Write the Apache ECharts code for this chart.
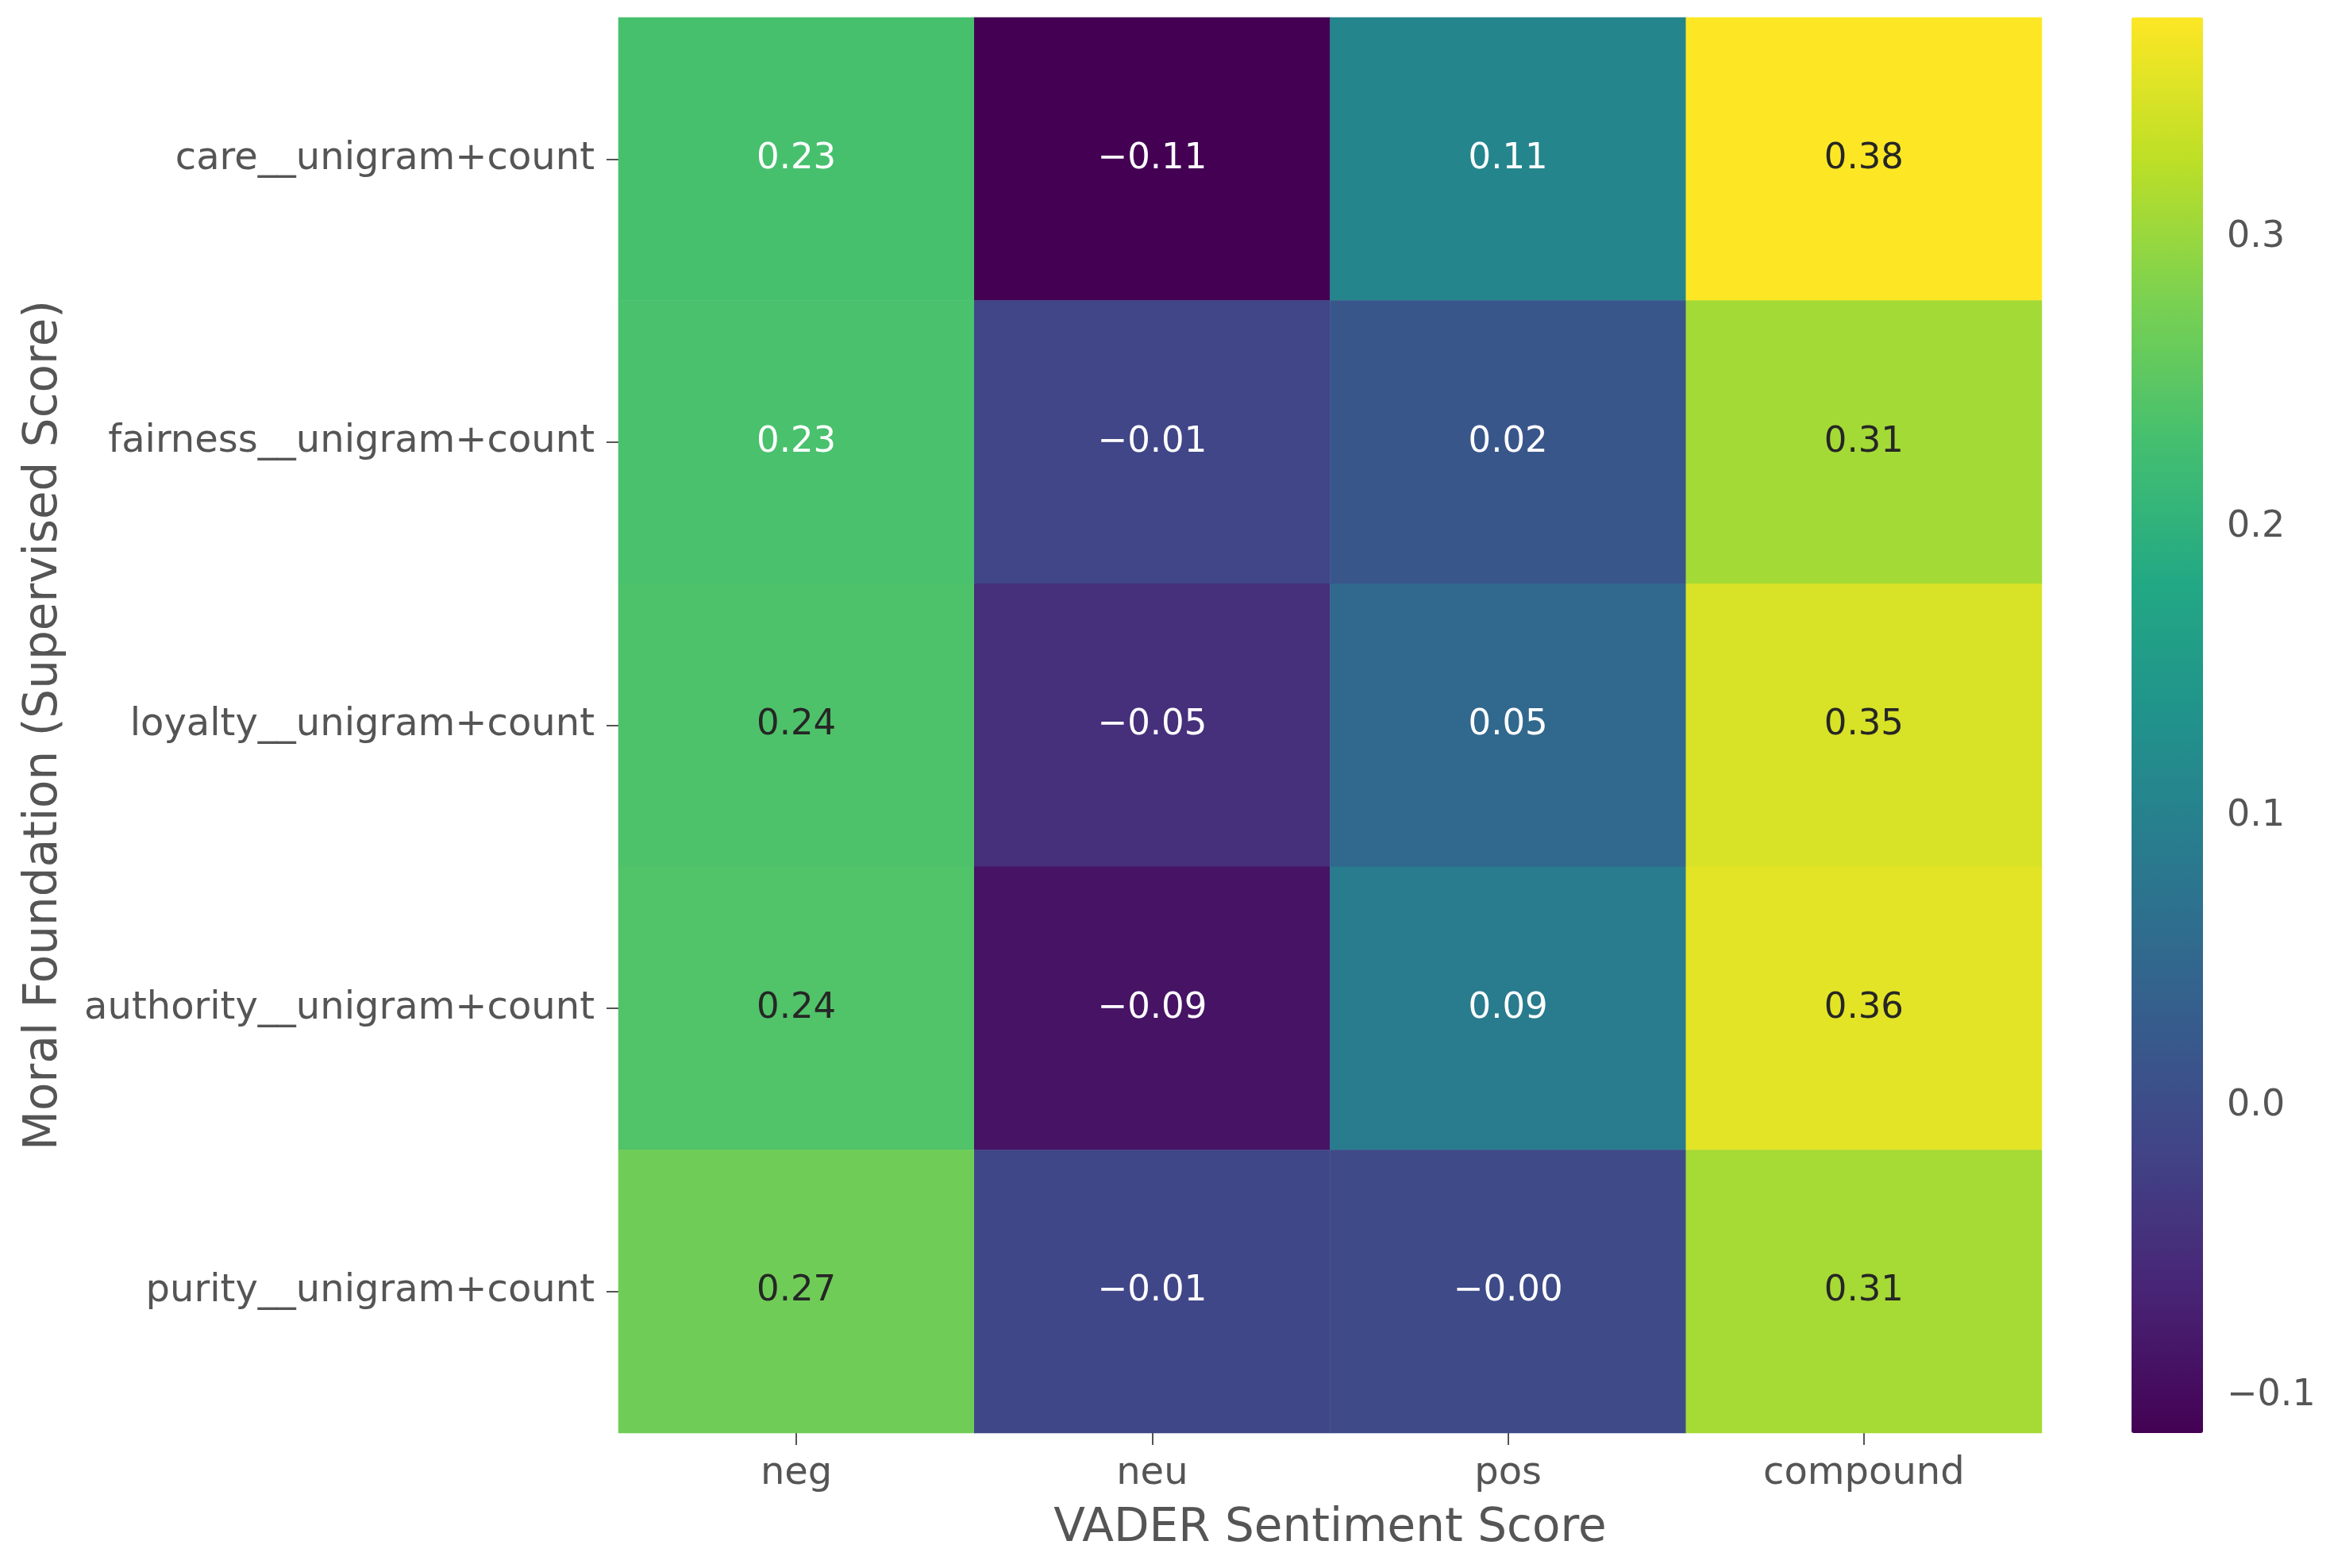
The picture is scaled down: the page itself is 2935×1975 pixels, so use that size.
<!DOCTYPE html>
<html>
<head>
<meta charset="utf-8">
<script src="https://cdn.jsdelivr.net/npm/echarts@6/dist/echarts.min.js"></script>
<style>
  html, body { margin: 0; padding: 0; background: #fff; }
  #main { width: 2935px; height: 1975px; }
</style>
</head>
<body>
<div id="main"></div>
<script>
// rows top to bottom, columns left to right
var foundations = ['care__unigram+count', 'fairness__unigram+count', 'loyalty__unigram+count', 'authority__unigram+count', 'purity__unigram+count'];
var sentiments = ['neg', 'neu', 'pos', 'compound'];

var negValues = [0.232, 0.234, 0.238, 0.241, 0.268];
var neuValues = [-0.113, -0.012, -0.048, -0.088, -0.010];
var posValues = [0.108, 0.018, 0.052, 0.089, -0.003];
var compoundValues = [0.376, 0.309, 0.348, 0.356, 0.310];

var colorbarTicks = [-0.1, 0.0, 0.1, 0.2, 0.3];

var viridis = ['#440154', '#482475', '#414487', '#355f8d', '#2a788e', '#21918c', '#22a884', '#44bf70', '#7ad151', '#bddf26', '#fde725'];

var columns = [negValues, neuValues, posValues, compoundValues];
var vmin = Math.min.apply(null, [].concat(negValues, neuValues, posValues, compoundValues));
var vmax = Math.max.apply(null, [].concat(negValues, neuValues, posValues, compoundValues));

var textGrey = '#555555';
var font = 'DejaVu Sans';

function fmt(v) {
  return v.toFixed(2).replace('-', '\u2212');
}

var cells = [];
columns.forEach(function (col, j) {
  col.forEach(function (v, i) {
    cells.push({
      value: [j, i, v],
      label: { color: v < 0.236 ? '#ffffff' : '#262626' }
    });
  });
});

var chart = echarts.init(document.getElementById('main'));

var option = {
  animation: false,
  backgroundColor: '#ffffff',
  textStyle: { fontFamily: font },
  grid: [
    { left: 779, right: 363, top: 22, bottom: 170 },
    { left: 2685, width: 90, top: 22, bottom: 170 }
  ],
  xAxis: [{
    type: 'category',
    gridIndex: 0,
    data: sentiments,
    axisLine: { show: false },
    axisTick: { show: true, alignWithLabel: true, length: 15, lineStyle: { color: textGrey, width: 2 } },
    axisLabel: { fontSize: 48, color: textGrey, margin: 28, fontFamily: font },
    splitLine: { show: false },
    name: 'VADER Sentiment Score',
    nameLocation: 'middle',
    nameGap: 92,
    nameTextStyle: { fontSize: 58, color: textGrey, fontFamily: font }
  }, {
    type: 'value',
    gridIndex: 1,
    show: false,
    min: 0,
    max: 1
  }],
  yAxis: [{
    type: 'category',
    gridIndex: 0,
    data: foundations,
    inverse: true,
    axisLine: { show: false },
    axisTick: { show: true, alignWithLabel: true, length: 15, lineStyle: { color: textGrey, width: 2 } },
    axisLabel: { fontSize: 48, color: textGrey, margin: 30, fontFamily: font },
    splitLine: { show: false },
    name: 'Moral Foundation (Supervised Score)',
    nameLocation: 'middle',
    nameGap: 694,
    nameTextStyle: { fontSize: 58, color: textGrey, fontFamily: font }
  }, {
    type: 'value',
    gridIndex: 1,
    position: 'right',
    min: vmin,
    max: vmax,
    axisLine: { show: false },
    axisTick: { show: true, inside: false, length: 15, customValues: colorbarTicks, lineStyle: { color: textGrey, width: 2 } },
    axisLabel: {
      fontSize: 46, color: textGrey, margin: 30, fontFamily: font,
      customValues: colorbarTicks,
      formatter: function (v) { return fmt(v).replace(/0$/, ''); }
    },
    splitLine: { show: false }
  }],
  visualMap: {
    type: 'continuous',
    seriesIndex: 0,
    min: vmin,
    max: vmax,
    calculable: false,
    realtime: false,
    orient: 'vertical',
    left: 2685,
    top: 22,
    padding: 0,
    itemWidth: 90,
    itemHeight: 1783,
    text: null,
    showLabel: false,
    hoverLink: false,
    inRange: { color: viridis }
  },
  series: [{
    type: 'heatmap',
    xAxisIndex: 0,
    yAxisIndex: 0,
    data: cells,
    label: {
      show: true,
      fontSize: 45,
      fontFamily: font,
      formatter: function (p) { return fmt(p.value[2]); }
    },
    itemStyle: { borderWidth: 0 },
    emphasis: { disabled: true }
  }]
};

chart.setOption(option);
</script>
</body>
</html>
